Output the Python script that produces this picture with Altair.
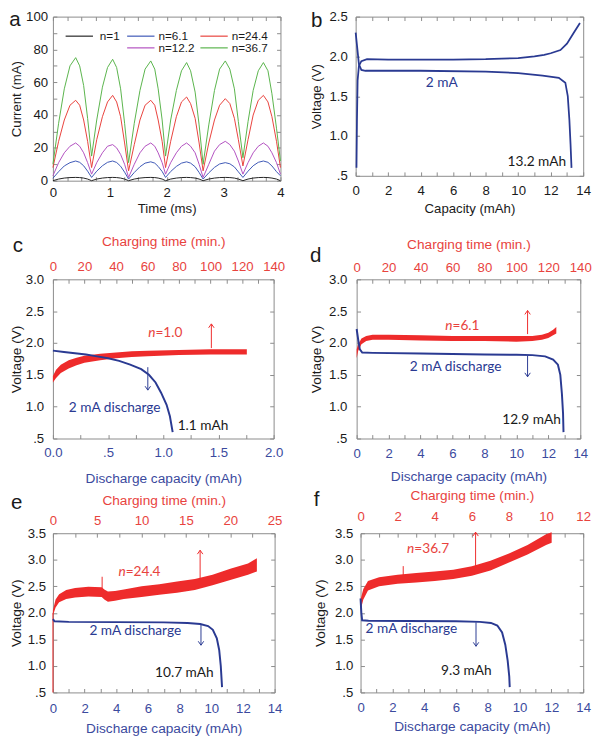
import altair as alt
import pandas as pd

FONT = "Liberation Sans"
ANN = "Lato"
FRAME = "#8a8a8a"
RED = "#ee2b2b"
RED_T = "#e8433e"
NAVY = "#2a3a92"
BLUE_T = "#3b4a9e"
BLACK = "#1a1a1a"

# ---------------- panel a : current waveforms ----------------
time_ms = [0.00, 0.10, 0.20, 0.30, 0.40, 0.47, 0.54, 0.61,
           0.68, 0.77, 0.87, 0.96, 1.05, 1.12, 1.19, 1.26,
           1.33, 1.43, 1.53, 1.62, 1.72, 1.79, 1.85, 1.92,
           1.98, 2.07, 2.17, 2.26, 2.35, 2.42, 2.50, 2.57,
           2.64, 2.74, 2.84, 2.93, 3.03, 3.11, 3.19, 3.26,
           3.34, 3.43, 3.52, 3.61, 3.70, 3.78, 3.85, 3.93, 4.00]
cur_n1 = [0, 1, 1.6, 1.9, 2, 1.9, 1.6, 1,
          0, 1, 1.6, 1.9, 2, 1.9, 1.6, 1,
          0, 1, 1.6, 1.9, 2, 1.9, 1.6, 1,
          0, 1, 1.6, 1.9, 2, 1.9, 1.6, 1,
          0, 1, 1.6, 1.9, 2, 1.9, 1.6, 1,
          0, 1, 1.6, 1.9, 2, 1.9, 1.6, 1, 0]
cur_n6 = [1.5, 5.5, 9, 11, 12, 11.2, 9.1, 5.8,
          2, 5.8, 9.1, 11.2, 12, 11.1, 8.8, 5.2,
          1, 5, 8.5, 10.7, 11.5, 10.7, 8.7, 5.6,
          2, 5.6, 8.7, 10.7, 11.5, 10.7, 8.5, 5,
          1, 4.8, 8.1, 10.2, 11, 10.3, 8.4, 5.4,
          2, 5.8, 9.1, 11.2, 12, 11.2, 9, 5.5, 3]
cur_n12 = [3, 11, 17, 21, 23, 21, 17, 11,
           4, 11, 17, 21, 22, 20, 16, 10,
           2, 10, 17, 21, 23, 21, 17, 11,
           4, 11, 17, 21, 23, 21, 17, 10,
           2, 10, 18, 22, 24, 22, 18, 12,
           4, 11, 17, 21, 23, 21, 17, 11, 4]
cur_n24 = [8, 24, 37, 46, 49, 46, 37, 24,
           8, 25, 39, 48, 52, 48, 39, 23,
           6, 22, 37, 46, 49, 46, 37, 24,
           8, 24, 39, 48, 51, 47, 38, 23,
           6, 23, 37, 46, 50, 47, 38, 25,
           9, 25, 40, 49, 52, 48, 39, 24, 8]
cur_n36 = [10, 35, 56, 70, 75, 70, 58, 38,
           15, 37, 57, 69, 74, 69, 56, 35,
           11, 35, 55, 68, 73, 68, 56, 37,
           15, 37, 55, 67, 72, 67, 54, 34,
           10, 34, 55, 68, 73, 68, 56, 36,
           14, 36, 55, 67, 72, 67, 53, 32, 12]
series_names = ["n=1", "n=6.1", "n=12.2", "n=24.4", "n=36.7"]
series_colors = ["#222222", "#3b56b5", "#b14fbf", "#e8403a", "#58b34a"]
series_vals = [cur_n1, cur_n6, cur_n12, cur_n24, cur_n36]

# ---------------- panel b : charge / discharge at 2 mA ----------------
b_chg_cap = [0.05, 0.08, 0.12, 0.2, 0.35, 0.7, 2, 4, 6, 8, 10, 11, 11.6, 12, 12.6, 13, 13.4, 13.8]
b_chg_v = [0.6, 1.2, 1.7, 1.88, 1.94, 1.965, 1.96, 1.96, 1.96, 1.965, 1.98, 2.0, 2.02, 2.04, 2.08, 2.16, 2.29, 2.42]
b_dis_cap = [0, 0.1, 0.2, 0.35, 0.6, 4, 8, 10, 11.5, 12.5, 12.9, 13.05, 13.15, 13.22, 13.28]
b_dis_v = [2.3, 2.1, 1.9, 1.83, 1.82, 1.82, 1.81, 1.79, 1.76, 1.73, 1.67, 1.5, 1.2, 0.9, 0.6]

# ---------------- panels c-f ----------------
c_t = [0, 2, 5, 10, 15, 20, 30, 40, 50, 60, 80, 100, 123]
c_lo = [1.38, 1.45, 1.53, 1.60, 1.65, 1.69, 1.73, 1.76, 1.78, 1.79, 1.81, 1.82, 1.82]
c_hi = [1.48, 1.58, 1.66, 1.73, 1.77, 1.80, 1.83, 1.85, 1.87, 1.88, 1.89, 1.90, 1.90]
c_cap = [0, 0.1, 0.2, 0.3, 0.4, 0.5, 0.6, 0.7, 0.8, 0.87, 0.93, 0.98, 1.03, 1.06, 1.085]
c_v = [1.88, 1.86, 1.84, 1.82, 1.79, 1.76, 1.72, 1.66, 1.59, 1.50, 1.38, 1.22, 1.03, 0.85, 0.60]

d_t = [0, 1, 3, 6, 10, 20, 40, 60, 80, 100, 110, 116, 120, 123, 125]
d_lo = [1.76, 1.88, 1.98, 2.03, 2.05, 2.05, 2.04, 2.03, 2.03, 2.02, 2.03, 2.05, 2.08, 2.12, 2.15]
d_hi = [1.90, 1.98, 2.07, 2.11, 2.13, 2.13, 2.12, 2.11, 2.11, 2.11, 2.11, 2.13, 2.16, 2.21, 2.25]
d_cap = [0, 0.1, 0.2, 0.35, 1, 4, 8, 10, 11, 11.8, 12.3, 12.6, 12.75, 12.85, 12.92, 12.95]
d_v = [2.22, 2.05, 1.90, 1.85, 1.845, 1.835, 1.82, 1.815, 1.81, 1.79, 1.74, 1.66, 1.50, 1.20, 0.90, 0.60]

e_t = [0, 0.3, 0.7, 1.5, 2.5, 4, 5.5, 5.8, 6.2, 7, 8, 10, 12, 14, 16, 18, 20, 22, 23]
e_lo = [1.95, 2.10, 2.20, 2.26, 2.29, 2.31, 2.30, 2.25, 2.21, 2.23, 2.26, 2.30, 2.34, 2.38, 2.43, 2.52, 2.62, 2.72, 2.78]
e_hi = [2.05, 2.25, 2.35, 2.43, 2.47, 2.49, 2.48, 2.44, 2.40, 2.41, 2.44, 2.50, 2.54, 2.59, 2.64, 2.72, 2.83, 2.93, 3.03]
e_cap = [0, 0.1, 1, 4, 7, 8.5, 9.3, 9.8, 10.1, 10.35, 10.5, 10.6, 10.68]
e_v = [1.88, 1.84, 1.83, 1.825, 1.82, 1.81, 1.79, 1.75, 1.68, 1.52, 1.30, 1.00, 0.60]

f_t = [0, 0.15, 0.4, 1, 2, 3, 4, 5, 6, 7, 8, 9, 10, 10.3]
f_lo = [2.05, 2.25, 2.42, 2.50, 2.55, 2.57, 2.60, 2.64, 2.70, 2.80, 2.95, 3.10, 3.28, 3.32]
f_hi = [2.25, 2.45, 2.60, 2.67, 2.72, 2.75, 2.78, 2.81, 2.88, 2.98, 3.12, 3.28, 3.48, 3.52]
f_cap = [0, 0.05, 0.1, 0.5, 3, 6, 7.5, 8.2, 8.6, 8.9, 9.1, 9.25, 9.35, 9.38]
f_v = [2.27, 2.00, 1.86, 1.85, 1.845, 1.84, 1.83, 1.81, 1.76, 1.63, 1.40, 1.10, 0.80, 0.60]

UP = "M-0.7,1L0,0L0.7,1"
DOWN = "M-0.7,-1L0,0L0.7,-1"
VEXPR = "datum.value == 0.5 ? '.5' : format(datum.value, '.1f')"
LBL = 13.5
TTL = 14


def vals(start, stop, step):
    n = int(round((stop - start) / step))
    return [round(start + i * step, 6) for i in range(n + 1)]


def axis(orient, values, expr=None, title=None, labels=True, lcolor=BLACK,
         tcolor=BLACK, lpad=6, tpad=5, extent=None, tsize=TTL):
    kw = dict(orient=orient, values=values, tickSize=4, offset=-4, domain=False,
              ticks=True, tickColor=FRAME, tickWidth=1, grid=False, labels=labels,
              labelColor=lcolor, labelPadding=lpad, labelFont=FONT, labelFontSize=LBL,
              labelOverlap=False, labelFlush=False, title=title, titleColor=tcolor,
              titlePadding=tpad, titleFont=FONT, titleFontSize=tsize,
              titleFontWeight="normal")
    if expr is not None:
        kw["labelExpr"] = expr
    if extent is not None:
        kw["minExtent"] = extent
        kw["maxExtent"] = extent
    return alt.Axis(**kw)


def letter(ch, dx, dy):
    return alt.Chart(pd.DataFrame({"k": [ch]})).mark_text(
        text=ch, font=FONT, fontSize=21, align="center", baseline="middle",
        color=BLACK).encode(x=alt.value(dx), y=alt.value(dy))


def one(**cols):
    return pd.DataFrame({k: [v] for k, v in cols.items()})


# ---------------- build panel a ----------------
rows = []
for name, vs in zip(series_names, series_vals):
    for t, v in zip(time_ms, vs):
        rows.append({"t": t, "i": v, "s": name})
df_a = pd.DataFrame(rows)

sxa = alt.Scale(domain=[0, 4], nice=False, zero=False)
sya = alt.Scale(domain=[0, 100], nice=False, zero=False)
ax_a_b = axis("bottom", vals(0, 4, 0.25), "datum.value % 1 ? '' : format(datum.value, 'd')",
              "Time (ms)", lpad=5, tpad=3.5, tsize=13.5)
ax_a_l = axis("left", vals(0, 100, 10), "datum.value % 20 ? '' : format(datum.value, 'd')",
              "Current (mA)", lpad=5.5, tpad=4.5, extent=30, tsize=13.5)
lines_a = alt.Chart(df_a).mark_line(strokeWidth=1).encode(
    x=alt.X("t:Q", scale=sxa, axis=ax_a_b),
    y=alt.Y("i:Q", scale=sya, axis=ax_a_l),
    color=alt.Color("s:N", scale=alt.Scale(domain=series_names, range=series_colors), legend=None),
    order=alt.Order("t:Q"))
ghost_a = alt.Chart(df_a).mark_line(opacity=0).encode(
    x=alt.X("t:Q", scale=sxa, axis=axis("top", vals(0, 4, 0.25), labels=False)),
    y=alt.Y("i:Q", scale=sya, axis=axis("right", vals(0, 100, 10), labels=False)))

leg_layers = []
leg_pos = {"n=1": (13, 41, 48, 20), "n=6.1": (76, 104, 108, 20),
           "n=24.4": (151, 179, 183, 20), "n=12.2": (76, 104, 108, 32),
           "n=36.7": (151, 179, 183, 32)}
for name, col in zip(series_names, series_colors):
    x0, x1, tx, ty = leg_pos[name]
    leg_layers.append(alt.Chart(one(k=name)).mark_rule(color=col, strokeWidth=1.2).encode(
        x=alt.value(x0), x2=alt.value(x1), y=alt.value(ty)))
    leg_layers.append(alt.Chart(one(k=name)).mark_text(
        text=name, font=FONT, fontSize=12, align="left", baseline="middle",
        color=BLACK).encode(x=alt.value(tx), y=alt.value(ty)))

panel_a = alt.layer(lines_a, ghost_a, *leg_layers, letter("a", -39, 3.5)).resolve_axis(
    x="independent", y="independent").properties(width=233, height=168)

# ---------------- build panel b ----------------
df_b = pd.concat([
    pd.DataFrame({"c": b_chg_cap, "v": b_chg_v, "k": "charge", "o": range(len(b_chg_cap))}),
    pd.DataFrame({"c": b_dis_cap, "v": b_dis_v, "k": "discharge", "o": range(len(b_dis_cap))})])
sxb = alt.Scale(domain=[0, 14], nice=False, zero=False)
syb = alt.Scale(domain=[0.5, 2.5], nice=False, zero=False)
ax_b_b = axis("bottom", vals(0, 14, 1), "datum.value % 2 ? '' : format(datum.value, 'd')",
              "Capacity (mAh)", lpad=8, tpad=5.5, tsize=13.5)
ax_b_l = axis("left", vals(0.5, 2.5, 0.5), VEXPR, "Voltage (V)", lpad=8.5, tpad=5.5,
              extent=32, tsize=13.5)
Xb = alt.X("c:Q", scale=sxb, axis=ax_b_b)
Yb = alt.Y("v:Q", scale=syb, axis=ax_b_l)
line_b = alt.Chart(df_b).mark_line(strokeWidth=1.8, color=NAVY).encode(
    x=Xb, y=Yb, detail="k:N", order="o:Q")
txt_b1 = alt.Chart(one(c=5.3, v=1.67)).mark_text(
    text="2 mA", font=ANN, fontSize=14, color=NAVY).encode(x=Xb, y=Yb)
txt_b2 = alt.Chart(one(c=11.15, v=0.67)).mark_text(
    text="13.2 mAh", font=ANN, fontSize=14, color=BLACK).encode(x=Xb, y=Yb)
main_b = alt.layer(line_b, txt_b1, txt_b2)
ghost_b = alt.Chart(df_b).mark_line(opacity=0).encode(
    x=alt.X("c:Q", scale=sxb, axis=axis("top", vals(0, 14, 1), labels=False)),
    y=alt.Y("v:Q", scale=syb, axis=axis("right", vals(0.5, 2.5, 0.5), labels=False)),
    detail="k:N")
panel_b = alt.layer(main_b, ghost_b, letter("b", -40, 5)).resolve_axis(
    x="independent", y="independent").properties(width=233, height=163)


# ---------------- panels c-f builder ----------------
def rb_panel(p):
    sxr = alt.Scale(domain=p["tdom"], nice=False, zero=False)
    sxc = alt.Scale(domain=p["cdom"], nice=False, zero=False)
    sy = alt.Scale(domain=p["vdom"], nice=False, zero=False)
    ax_top = axis("top", p["tvals"], p["texpr"], "Charging time (min.)", lcolor=RED_T,
                  tcolor=RED_T, lpad=p["tlp"], tpad=p["ttp"])
    ax_bot = axis("bottom", p["cvals"], p["cexpr"], "Discharge capacity (mAh)",
                  lcolor=BLUE_T, tcolor=BLUE_T, lpad=p["blp"], tpad=p["btp"])
    ax_left = axis("left", p["vvals"], VEXPR, "Voltage (V)", lpad=p["llp"],
                   tpad=p["ltp"], extent=p["ext"])
    ax_right = axis("right", p["vvals"], labels=False)

    def XR(f):
        return alt.X(f + ":Q", scale=sxr, axis=ax_top)

    def YL(f):
        return alt.Y(f + ":Q", scale=sy, axis=ax_left)

    def XC(f):
        return alt.X(f + ":Q", scale=sxc, axis=ax_bot)

    def YR(f):
        return alt.Y(f + ":Q", scale=sy, axis=ax_right)

    band = alt.Chart(pd.DataFrame({"t": p["t"], "lo": p["lo"], "hi": p["hi"]})).mark_area(
        color=RED, opacity=1).encode(x=XR("t"), y=YL("lo"), y2="hi:Q")
    red_layers = [band]
    if p.get("spikes"):
        sp = pd.DataFrame(p["spikes"], columns=["t", "lo", "hi"])
        red_layers.append(alt.Chart(sp).mark_rule(color=RED, strokeWidth=1).encode(
            x=XR("t"), y=YL("lo"), y2="hi:Q"))
    ra = p["rarrow"]
    ra_df = one(t=ra[0], lo=ra[1], hi=ra[2])
    red_layers.append(alt.Chart(ra_df).mark_rule(color=RED, strokeWidth=1).encode(
        x=XR("t"), y=YL("lo"), y2="hi:Q"))
    red_layers.append(alt.Chart(ra_df).mark_point(
        shape=UP, size=64, filled=False, color=RED, strokeWidth=1, opacity=1).encode(
        x=XR("t"), y=YL("hi")))
    nt = p["ntext"]
    n_df = one(t=nt[0], v=nt[1])
    red_layers.append(alt.Chart(n_df).mark_text(
        text="n", font=ANN, fontSize=14, fontStyle="italic", align="right",
        baseline="middle", color=RED_T).encode(x=XR("t"), y=YL("v")))
    red_layers.append(alt.Chart(n_df).mark_text(
        text=nt[2], font=ANN, fontSize=14, align="left", baseline="middle",
        color=RED_T).encode(x=XR("t"), y=YL("v")))
    red_group = alt.layer(*red_layers)

    line = alt.Chart(pd.DataFrame({"c": p["cap"], "v": p["v"]})).mark_line(
        color=NAVY, strokeWidth=2).encode(x=XC("c"), y=YR("v"))
    ba = p["barrow"]
    ba_df = one(c=ba[0], lo=ba[2], hi=ba[1])
    blue_layers = [line,
                   alt.Chart(ba_df).mark_rule(color=NAVY, strokeWidth=1).encode(
                       x=XC("c"), y=YR("lo"), y2="hi:Q"),
                   alt.Chart(ba_df).mark_point(
                       shape=DOWN, size=64, filled=False, color=NAVY, strokeWidth=1,
                       opacity=1).encode(x=XC("c"), y=YR("lo"))]
    dt = p["dtext"]
    blue_layers.append(alt.Chart(one(c=dt[0], v=dt[1])).mark_text(
        text="2 mA discharge", font=ANN, fontSize=14, baseline="middle",
        color=NAVY).encode(x=XC("c"), y=YR("v")))
    mt = p["mtext"]
    blue_layers.append(alt.Chart(one(c=mt[0], v=mt[1])).mark_text(
        text=mt[2], font=ANN, fontSize=14, baseline="middle",
        color=BLACK).encode(x=XC("c"), y=YR("v")))
    blue_group = alt.layer(*blue_layers)

    lt = p["letter"]
    return alt.layer(red_group, blue_group, letter(lt[0], lt[1], lt[2])).resolve_scale(
        x="independent").resolve_axis(x="independent", y="independent").properties(
        width=p["w"], height=p["h"])


common_cd = dict(tvals=vals(0, 140, 10), texpr="datum.value % 20 ? '' : format(datum.value, 'd')",
                 tdom=[0, 140], vdom=[0.5, 3.0], vvals=vals(0.5, 3.0, 0.5))
bot14 = dict(cdom=[0, 14], cvals=vals(0, 14, 1),
             cexpr="datum.value % 2 ? '' : format(datum.value, 'd')")

pc = dict(common_cd, t=c_t, lo=c_lo, hi=c_hi, cap=c_cap, v=c_v,
          cdom=[0, 2], cvals=vals(0, 2, 0.25),
          cexpr="(datum.value * 4) % 2 ? '' : (datum.value == 0.5 ? '.5' : format(datum.value, '.1f'))",
          rarrow=(100.5, 1.92, 2.30), ntext=(65, 2.15, "=1.0"),
          barrow=(0.86, 1.62, 1.26), dtext=(0.56, 0.98), mtext=(1.36, 0.70, "1.1 mAh"),
          tlp=6, ttp=12, blp=7.5, btp=13, llp=9.5, ltp=4.5, ext=30,
          letter=("c", -36, -33.5), w=226, h=163)
pd_ = dict(common_cd, **bot14, t=d_t, lo=d_lo, hi=d_hi, cap=d_cap, v=d_v,
           rarrow=(107, 2.14, 2.51), ntext=(60, 2.27, "=6.1"),
           barrow=(10.7, 1.80, 1.47), dtext=(6.2, 1.62), mtext=(10.95, 0.79, "12.9 mAh"),
           tlp=5, ttp=10, blp=8.5, btp=10, llp=10, ltp=5.5, ext=32,
           letter=("d", -42, -23.5), w=229, h=163)
pe = dict(bot14, t=e_t, lo=e_lo, hi=e_hi, cap=e_cap, v=e_v,
          tdom=[0, 25], tvals=vals(0, 25, 2.5),
          texpr="datum.value % 5 ? '' : format(datum.value, 'd')",
          vdom=[0.5, 3.5], vvals=vals(0.5, 3.5, 0.5),
          spikes=[(5.55, 2.45, 2.68), (0.0, 0.5, 2.0)],
          rarrow=(16.6, 2.62, 3.18), ntext=(8.2, 2.77, "=24.4"),
          barrow=(9.35, 1.77, 1.39), dtext=(5.2, 1.66), mtext=(8.3, 0.86, "10.7 mAh"),
          tlp=6, ttp=6.5, blp=10, btp=7, llp=7.5, ltp=4.5, ext=30,
          letter=("e", -37, -30.5), w=227, h=163)
pf = dict(bot14, t=f_t, lo=f_lo, hi=f_hi, cap=f_cap, v=f_v,
          tdom=[0, 12], tvals=vals(0, 12, 1),
          texpr="datum.value % 2 ? '' : format(datum.value, 'd')",
          vdom=[0.5, 3.5], vvals=vals(0.5, 3.5, 0.5),
          spikes=[(2.3, 2.70, 2.88)],
          rarrow=(6.2, 2.85, 3.52), ntext=(2.9, 3.21, "=36.7"),
          barrow=(7.26, 1.82, 1.37), dtext=(3.2, 1.69), mtext=(6.65, 0.90, "9.3 mAh"),
          tlp=10, ttp=8, blp=9, btp=6, llp=8, ltp=5.5, ext=32,
          letter=("f", -45, -33.5), w=228, h=163)

panel_c = rb_panel(pc)
panel_d = rb_panel(pd_)
panel_e = rb_panel(pe)
panel_f = rb_panel(pf)

row1 = alt.hconcat(panel_a, panel_b, spacing=24)
row2 = alt.hconcat(panel_c, panel_d, spacing=24)
row3 = alt.hconcat(panel_e, panel_f, spacing=30)
lower = alt.vconcat(row2, row3, spacing=1)

chart = alt.vconcat(row1, lower, spacing=18).properties(
    padding={"left": 0, "top": -8, "right": 0, "bottom": 0},
    background="white").configure_view(stroke=FRAME, strokeWidth=1)

chart.save("out.html", embed_options={"renderer": "svg", "actions": False})
